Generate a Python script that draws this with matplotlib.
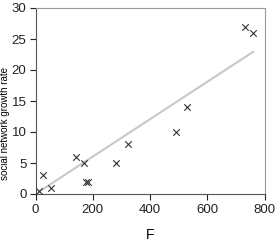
import matplotlib.pyplot as plt
import numpy as np

plt.rcParams['font.family'] = ['Liberation Sans', 'DejaVu Sans']

F = [13, 26, 53, 143, 168, 178, 182, 280, 324, 491, 531, 732, 760]
rate = [0.5, 3, 1, 6, 5, 2, 2, 5, 8, 10, 14, 27, 26]

fig = plt.figure(figsize=(2.77, 2.48), dpi=100)
ax = fig.add_axes([35.5 / 277, 54 / 248, 229 / 277, 186 / 248])

ax.scatter(F, rate, marker='x', s=22, color='#333333', linewidths=0.8, zorder=3)

# trend line through the origin
x = np.array(F, dtype=float)
y = np.array(rate, dtype=float)
k = (x * y).sum() / (x * x).sum()
xs = np.array([x.min(), x.max()])
ax.plot(xs, k * xs, color='#c8c8c8', lw=1.5, zorder=2)

ax.set_xlim(0, 800)
ax.set_ylim(0, 30)
ax.set_xticks([0, 200, 400, 600, 800])
ax.set_yticks([0, 5, 10, 15, 20, 25, 30])
ax.tick_params(labelsize=9.5, length=4, width=0.8, colors='#222222')
ax.tick_params(axis='y', pad=2.5)
for side in ['top', 'right']:
    ax.spines[side].set_color('#999999')
    ax.spines[side].set_linewidth(0.8)
for side in ['left', 'bottom']:
    ax.spines[side].set_color('#555555')

ax.set_xlabel('F', fontsize=10, labelpad=8)
ax.set_ylabel('social network growth rate', fontsize=7)
ax.yaxis.set_label_coords(-25 / 229, 0.38)

fig.savefig('out.png', dpi=100)
